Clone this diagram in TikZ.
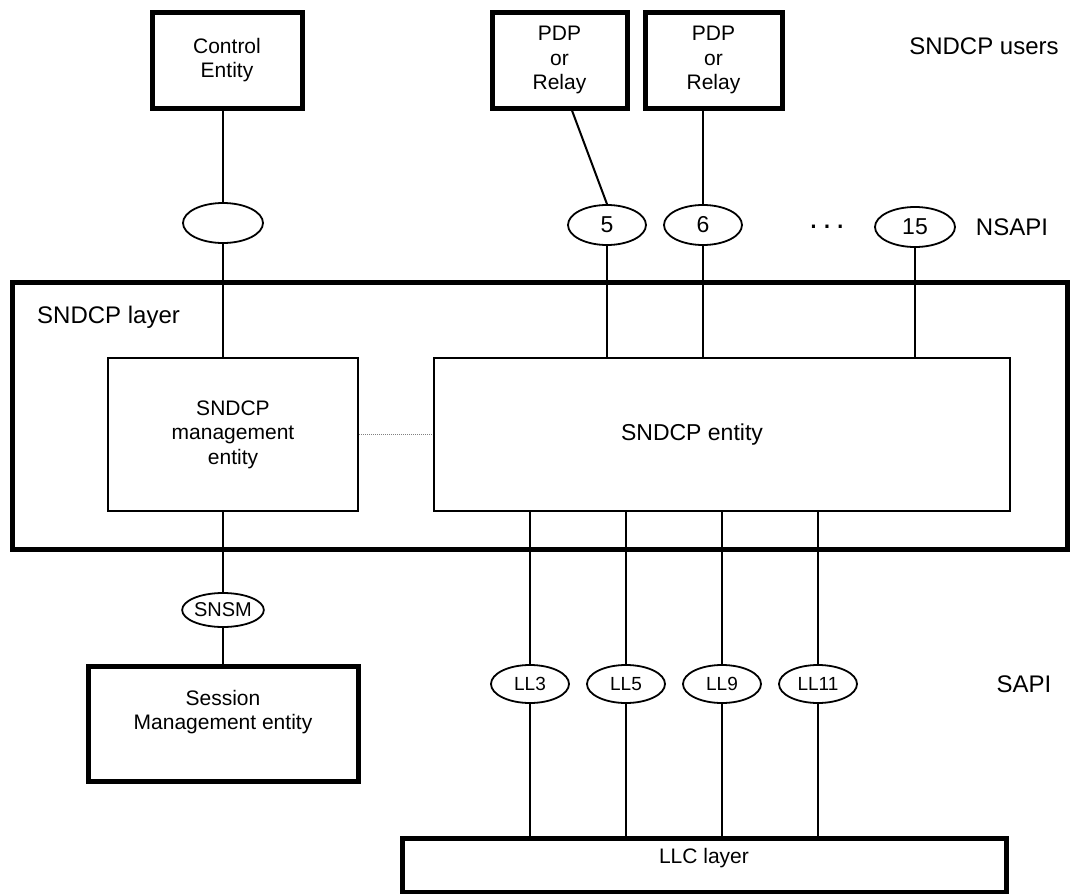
\documentclass[tikz,border=0pt]{standalone}
\usepackage{fontspec}
\setmainfont{Liberation Sans}
\usetikzlibrary{shapes.geometric}
\begin{document}
\begin{tikzpicture}[x=1pt,y=-1pt,
  boxfont/.style={font=\fontsize{21}{24.5}\selectfont},
  thickbox/.style={draw, line width=5pt, rectangle, inner sep=0pt, align=center, boxfont},
  thinbox/.style={draw, line width=2pt, rectangle, inner sep=0pt, align=center, boxfont},
  sap/.style={draw, ellipse, line width=1.8pt, inner sep=0pt, minimum width=78pt, minimum height=40pt, font=\fontsize{23}{26}\selectfont},
  llsap/.style={sap, minimum height=38pt, font=\fontsize{19}{22}\selectfont},
  conn/.style={line width=2pt},
  lbl/.style={font=\fontsize{24}{28}\selectfont, inner sep=0pt},
]
\fill[white] (0,0) rectangle (1072,894);
\useasboundingbox (0,0) rectangle (1072,894);

% SNDCP layer
\node[draw, line width=5pt, rectangle, inner sep=0pt, minimum width=1055pt, minimum height=267pt] (layer) at (539.5,415.5) {};
\node[lbl, anchor=west] (layertxt) at (37,317) {SNDCP layer};

% users
\node[thickbox, minimum width=150pt, minimum height=96pt] (ctrl) at (227,60) {Control\\Entity};
\node[thickbox, minimum width=135pt, minimum height=96pt] (pdp1) at (559.5,60) {PDP\\or\\Relay};
\node[thickbox, minimum width=137pt, minimum height=96pt] (pdp2) at (713.5,60) {PDP\\or\\Relay};
\node[lbl] (users) at (984,46) {SNDCP users};

% NSAPI
\node[sap, minimum width=80pt] (co) at (223,223) {};
\node[sap] (o5) at (607,225) {5};
\node[sap] (o6) at (703,225) {6};
\node[sap, minimum width=80pt] (o15) at (915,227) {15};
\node[font=\fontsize{32}{34}\selectfont, inner sep=0pt] (dots) at (827,227) {.\hspace{4.5pt}.\hspace{4.5pt}.};
\node[lbl] (nsapi) at (1012,227) {NSAPI};

% entities
\node[thinbox, minimum width=250pt, minimum height=153pt] (mgmt) at (233,434.5) {SNDCP\\management\\entity};
\node[thinbox, minimum width=576pt, minimum height=153pt,
  label={[font=\fontsize{23}{26}\selectfont, xshift=-30pt]center:SNDCP entity}] (ent) at (722,434.5) {};

% SAPI
\node[sap, minimum width=78pt, minimum height=34pt, font=\fontsize{20}{22}\selectfont] (snsm) at (223,610) {SNSM};
\node[llsap] (ll3) at (530,684) {LL3};
\node[llsap] (ll5) at (626,684) {LL5};
\node[llsap] (ll9) at (722,684) {LL9};
\node[llsap] (ll11) at (818,684) {LL11};
\node[lbl] (sapi) at (1024,684) {SAPI};

\node[thickbox, minimum width=270pt, minimum height=115pt,
  label={[boxfont, align=center, yshift=11.5pt]center:Session\\Management entity}] (sess) at (223,723.5) {};
\node[thickbox, minimum width=604pt, minimum height=54pt,
  label={[boxfont, yshift=7pt]center:LLC layer}] (llc) at (704,865) {};

% connectors
\draw[conn] (co.north |- ctrl.south) -- (co.north);
\draw[conn] (co.south) -- (co.south |- mgmt.north);
\draw[conn] ([xshift=12.5pt]pdp1.south) -- (o5.north);
\draw[conn] (o6.north |- pdp2.south) -- (o6.north);
\draw[conn] (o5.south) -- (o5.south |- ent.north);
\draw[conn] (o6.south) -- (o6.south |- ent.north);
\draw[conn] (o15.south) -- (o15.south |- ent.north);
\draw[gray, line width=1pt, dash pattern=on 1pt off 1pt] (mgmt.east) -- (ent.west);
\draw[conn] (snsm.north |- mgmt.south) -- (snsm.north);
\draw[conn] (snsm.south) -- (snsm.south |- sess.north);
\foreach \n in {ll3,ll5,ll9,ll11}{
  \draw[conn] (\n.north |- ent.south) -- (\n.north);
  \draw[conn] (\n.south) -- (\n.south |- llc.north);
}
\end{tikzpicture}
\end{document}
